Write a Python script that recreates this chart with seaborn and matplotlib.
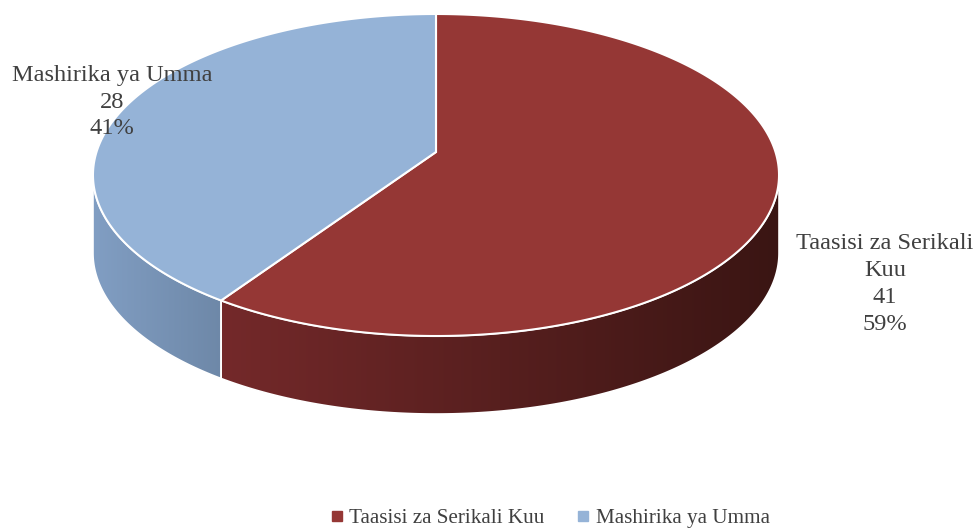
import numpy as np
import matplotlib
matplotlib.use("Agg")
import matplotlib.pyplot as plt
import seaborn as sns
from matplotlib.patches import Polygon
from matplotlib.lines import Line2D
from matplotlib.colors import LinearSegmentedColormap

# data
labels = ["Taasisi za Serikali Kuu", "Mashirika ya Umma"]
label_text = ["Taasisi za Serikali\nKuu", "Mashirika ya Umma"]
counts = [41, 28]
top_colors = ["#953735", "#95B3D7"]
side_colors = [("#74292A", "#3A1513"), ("#819EC3", "#6E88A8")]

sns.set_theme(style="white")
plt.rcParams["font.family"] = ["Liberation Serif", "DejaVu Serif"]
TXT = "#404040"

# fake 3d pie geometry (pixel units)
CX, CY = 436, 152      # projected centre of the disc
B, K = 136, 0.1429     # vertical half-size / perspective
A = 339.5              # horizontal half-size
DEPTH = 78


def proj(phi_deg):
    phi = np.radians(phi_deg)
    u, v = np.sin(phi), -np.cos(phi)
    w = 1 - K * v
    return CX + A * u / w, (B * v + CY) / w


fig = plt.figure(figsize=(9.77, 5.29), dpi=100)
ax = fig.add_axes([0, 0, 1, 1])

total = sum(counts)
bounds = np.cumsum([0] + counts) / total * 360
sil_lo = np.degrees(np.arccos(-K))
sil_hi = 360 - sil_lo

# side walls first
for i in range(len(counts)):
    lo, hi = max(bounds[i], sil_lo), min(bounds[i + 1], sil_hi)
    if lo >= hi:
        continue
    phis = np.linspace(lo, hi, 200)
    xs, ys = proj(phis)
    pts = np.column_stack([np.r_[xs, xs[::-1]], np.r_[ys, ys[::-1] + DEPTH]])
    patch = Polygon(pts, closed=True, facecolor="none", edgecolor="white", lw=1.2, zorder=2)
    ax.add_patch(patch)
    cmap = LinearSegmentedColormap.from_list("side%d" % i, side_colors[i])
    im = ax.imshow(np.linspace(0, 1, 256)[None, :], cmap=cmap, aspect="auto",
                   extent=[pts[:, 0].min(), pts[:, 0].max(), pts[:, 1].max() + 2, pts[:, 1].min() - 2],
                   zorder=1)
    im.set_clip_path(patch)

# top faces
for i in range(len(counts)):
    phis = np.linspace(bounds[i], bounds[i + 1], 300)
    xs, ys = proj(phis)
    pts = np.vstack([[CX, CY], np.column_stack([xs, ys])])
    ax.add_patch(Polygon(pts, closed=True, facecolor=top_colors[i], edgecolor="white",
                         lw=1.5, joinstyle="miter", zorder=3))

# data labels
pcts = [round(c / total * 100) for c in counts]
ax.text(885, 284, f"{label_text[0]}\n{counts[0]}\n{pcts[0]}%", ha="center", va="center",
        fontsize=17.6, color=TXT, linespacing=1.36)
ax.text(112, 102, f"{label_text[1]}\n{counts[1]}\n{pcts[1]}%", ha="center", va="center",
        fontsize=17.6, color=TXT, linespacing=1.36)

ax.set_xlim(0, 977)
ax.set_ylim(529, 0)
ax.axis("off")

handles = [Line2D([], [], marker="s", ls="", markersize=6.5, color=c) for c in top_colors]
fig.legend(handles, labels, loc="center", bbox_to_anchor=(550 / 977, 1 - 518 / 529), ncol=2,
           frameon=False, fontsize=15.2, labelcolor=TXT, handletextpad=0.3, columnspacing=1.5,
           handlelength=0.6)

fig.savefig("out.png", dpi=100)
